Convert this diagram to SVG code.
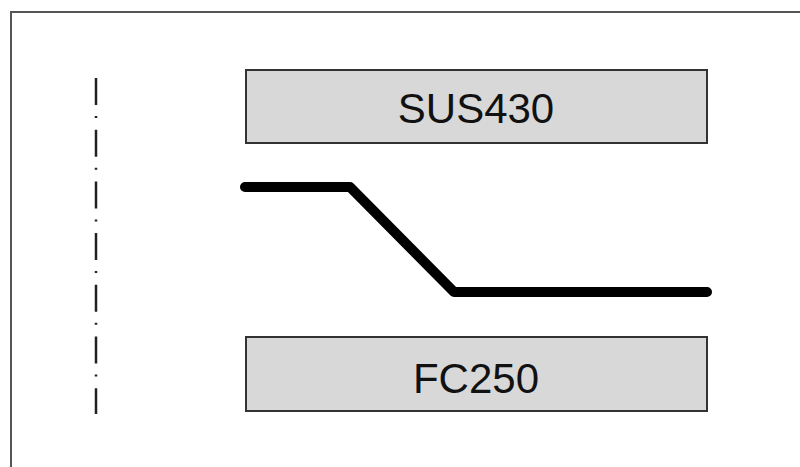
<svg xmlns="http://www.w3.org/2000/svg" width="800" height="467" viewBox="0 0 800 467">
<style>
.box{fill:#d8d8d8;stroke:#333;stroke-width:2}
.lbl{font-family:"Liberation Sans",Arial,sans-serif;font-size:42px;fill:#111;text-anchor:middle}
</style>
<rect x="0" y="0" width="800" height="467" fill="#fff"/>
<rect x="11" y="12" width="800" height="470" fill="none" stroke="#555" stroke-width="2"/>
<line x1="96" y1="78" x2="96" y2="414" stroke="#222" stroke-width="2.5" stroke-dasharray="27 11 2 11.7"/>
<g id="sus430">
<rect class="box" x="246" y="70" width="461" height="73"/>
<text class="lbl" x="476" y="123">SUS430</text>
</g>
<g id="fc250">
<rect class="box" x="246" y="337" width="461" height="74"/>
<text class="lbl" x="476" y="393">FC250</text>
</g>
<g id="connectors">
<polyline points="245,187 350,187 454,292 707,292" fill="none" stroke="#000" stroke-width="10" stroke-linecap="round" stroke-linejoin="round"/>
</g>
</svg>
